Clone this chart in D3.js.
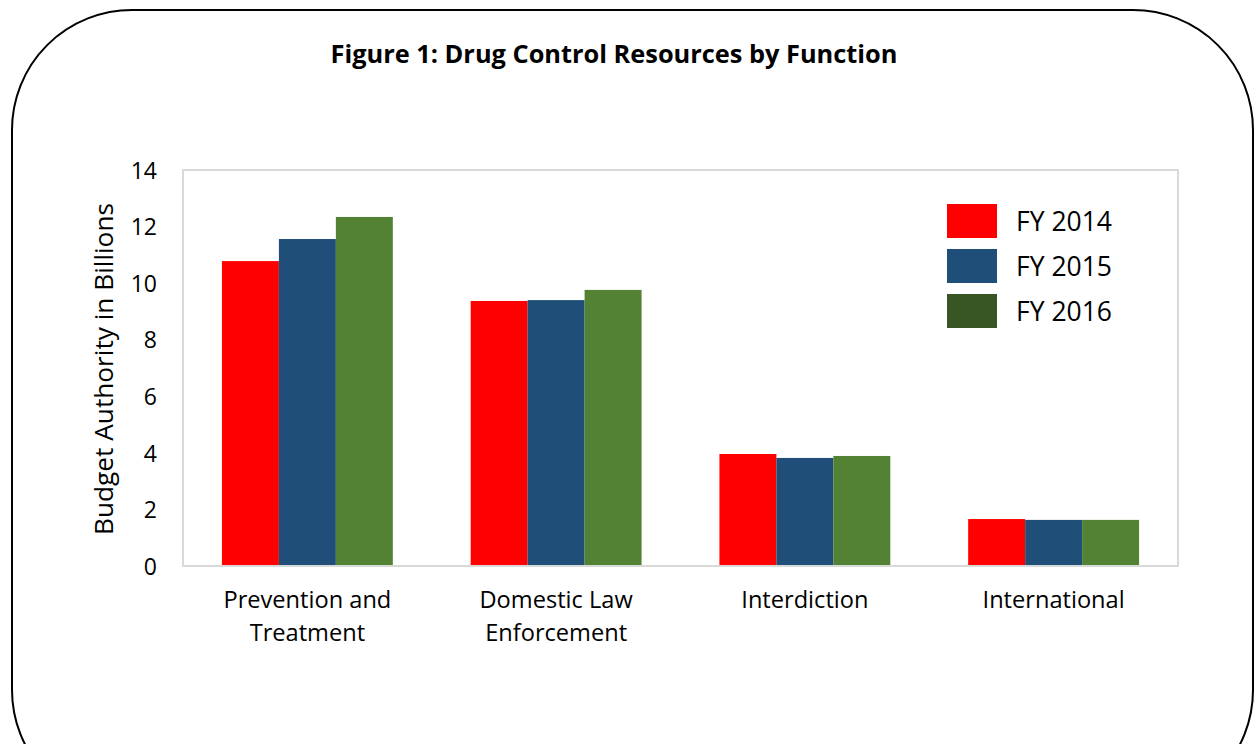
<!DOCTYPE html>
<html>
<head>
<meta charset="UTF-8" />
<title>Drug Control Resources by Function</title>
<script src="https://d3js.org/d3.v7.min.js"></script>
<style>
  body { margin: 0; background: #fff; }
  svg { display: block; font-family: "Open Sans", sans-serif; }
  .title { font-weight: bold; font-size: 25px; }
  .label { font-size: 23px; }
</style>
</head>
<body>
<div id="chart"></div>
<script>
// chart data
var functions = [["Prevention and", "Treatment"], ["Domestic Law", "Enforcement"], ["Interdiction"], ["International"]];
var years = ["FY 2014", "FY 2015", "FY 2016"];
var fy2014 = [10.78, 9.37, 3.96, 1.66];
var fy2015 = [11.56, 9.40, 3.82, 1.63];
var fy2016 = [12.34, 9.76, 3.89, 1.63];
var yTicks = [0, 2, 4, 6, 8, 10, 12, 14];

var series = [fy2014, fy2015, fy2016];
var barColors = ["#ff0000", "#1f4e79", "#548235"];
var legendColors = ["#ff0000", "#1f4e79", "#375623"];

var W = 1256, H = 744;
var margin = {top: 170, left: 183, right: 78, bottom: 178};
var width = W - margin.left - margin.right,
    height = H - margin.top - margin.bottom;

// scale a text's font so that it takes the given width
function fitWidth(sel, target) {
  var size = parseFloat(window.getComputedStyle(sel.node()).fontSize);
  var w = sel.node().getComputedTextLength();
  var s = size * target / w;
  sel.style("font-size", s + "px");
  return s;
}

var svg = d3.select("#chart").append("svg")
  .attr("width", W)
  .attr("height", H);

// rounded outer frame
svg.append("rect")
  .attr("x", 12).attr("y", 10)
  .attr("width", 1241).attr("height", 800)
  .attr("rx", 120).attr("ry", 120)
  .attr("fill", "none")
  .attr("stroke", "#000")
  .attr("stroke-width", 2);

var title = svg.append("text")
  .attr("class", "title")
  .attr("x", 614).attr("y", 63)
  .attr("text-anchor", "middle")
  .text("Figure 1: Drug Control Resources by Function");
fitWidth(title, 567);

var g = svg.append("g")
  .attr("transform", "translate(" + margin.left + "," + margin.top + ")");

var x0 = d3.scaleBand().domain(d3.range(functions.length)).range([0, width]).paddingInner(0).paddingOuter(0);
var groupW = x0.bandwidth() * 0.687;
var x1 = d3.scaleBand().domain(d3.range(years.length)).range([0, groupW]);
var y = d3.scaleLinear().domain([0, 14]).range([height, 0]);

// plot area border
g.append("rect")
  .attr("width", width).attr("height", height)
  .attr("fill", "none")
  .attr("stroke", "#d9d9d9")
  .attr("stroke-width", 2);

// bars
var groups = g.selectAll(".grp")
  .data(functions)
  .enter().append("g")
  .attr("class", "grp")
  .attr("transform", function(d, i) { return "translate(" + (x0(i) + (x0.bandwidth() - groupW) / 2) + ",0)"; });

groups.selectAll("rect")
  .data(function(d, i) { return series.map(function(s, j) { return {j: j, v: s[i]}; }); })
  .enter().append("rect")
  .attr("x", function(d) { return x1(d.j); })
  .attr("width", x1.bandwidth())
  .attr("y", function(d) { return y(d.v); })
  .attr("height", function(d) { return height - y(d.v); })
  .attr("fill", function(d) { return barColors[d.j]; });

// y axis
var yAxis = g.append("g")
  .call(d3.axisLeft(y).tickValues(yTicks).tickSize(0).tickPadding(26))
  .attr("font-family", "Open Sans, sans-serif")
  .attr("font-size", 23);
yAxis.select(".domain").remove();
yAxis.selectAll(".tick text").attr("fill", "#000").attr("dy", "0.36em");

// x axis labels
var xAxis = g.append("g")
  .attr("transform", "translate(0," + height + ")");
xAxis.append("line")
  .attr("x1", 0).attr("x2", width)
  .attr("stroke", "#d9d9d9").attr("stroke-width", 2);
var xl = xAxis.selectAll(".xl")
  .data(functions)
  .enter().append("text")
  .attr("class", "label")
  .attr("text-anchor", "middle")
  .attr("x", function(d, i) { return x0(i) + x0.bandwidth() / 2; })
  .attr("y", 42);
xl.each(function(d) {
    var t = d3.select(this);
    d.forEach(function(line, k) {
      t.append("tspan")
        .attr("x", t.attr("x"))
        .attr("dy", k === 0 ? 0 : 33)
        .text(line);
    });
  });
// size all category labels from the first line of the first one
var probe = xAxis.append("text").attr("class", "label").text(functions[0][0]);
var xs = fitWidth(probe, 168);
probe.remove();
xl.style("font-size", xs + "px");

// y axis title
var yt = svg.append("text")
  .attr("class", "label")
  .attr("transform", "translate(113," + 369 + ") rotate(-90)")
  .attr("text-anchor", "middle")
  .text("Budget Authority in Billions");
fitWidth(yt, 332);

// legend
var legend = svg.append("g")
  .attr("transform", "translate(947,204)");
var li = legend.selectAll(".li")
  .data(years)
  .enter().append("g")
  .attr("transform", function(d, i) { return "translate(0," + (i * 45) + ")"; });
li.append("rect")
  .attr("width", 50).attr("height", 34)
  .attr("fill", function(d, i) { return legendColors[i]; });
var lt = li.append("text")
  .attr("class", "label")
  .attr("x", 69).attr("y", 17)
  .attr("dy", "0.36em")
  .text(function(d) { return d; });
var ls = fitWidth(d3.select(lt.node()), 96);
lt.style("font-size", ls + "px");
</script>
</body>
</html>
